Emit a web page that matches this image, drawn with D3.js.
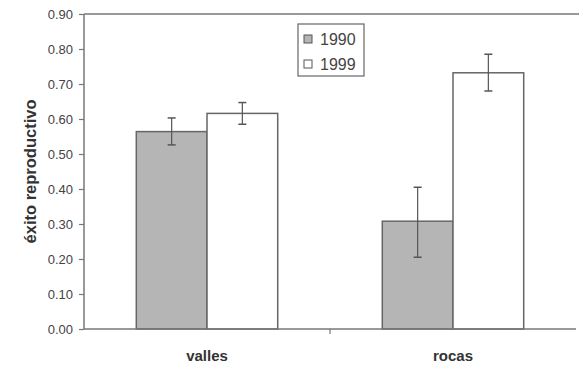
<!DOCTYPE html>
<html>
<head>
<meta charset="utf-8">
<script src="https://d3js.org/d3.v7.min.js"></script>
<style>
    body { margin: 0; background: white; }
    text { font-family: 'Liberation Sans', Arial, sans-serif; fill: #333; }
</style>
</head>
<body>
<div id="chart"></div>
<script>

var categories = ["valles", "rocas"];
var years = ["1990", "1999"];
var means = {
    "1990": [0.564, 0.308],
    "1999": [0.616, 0.732]
};
var errLow = {
    "1990": [0.526, 0.205],
    "1999": [0.585, 0.680]
};
var errHigh = {
    "1990": [0.603, 0.405],
    "1999": [0.647, 0.785]
};
var yTicks = [0, 0.1, 0.2, 0.3, 0.4, 0.5, 0.6, 0.7, 0.8, 0.9];
var fills = { "1990": "#b5b5b5", "1999": "#ffffff" };

var W = 579, H = 367;
var mLeft = 84, mRight = 576, mTop = 14, mBottom = 329;
var groupW = 141.4;

var svg = d3.select("#chart").append("svg")
    .attr("width", W)
    .attr("height", H);

var x = d3.scaleBand()
    .domain(categories)
    .range([mLeft, mRight]);

var xIn = d3.scaleBand()
    .domain(years)
    .range([0, groupW]);

var y = d3.scaleLinear()
    .domain([0, 0.9])
    .range([mBottom, mTop]);

// top border of plot area
svg.append("line")
    .attr("x1", mLeft).attr("x2", W)
    .attr("y1", mTop).attr("y2", mTop)
    .style("stroke", "#777")
    .style("stroke-width", 1.5);

// bars
var groups = svg.selectAll(".grp")
    .data(categories)
    .enter().append("g")
    .attr("transform", function(d) { return "translate(" + (x(d) + (x.bandwidth() - groupW) / 2) + ",0)"; });

years.forEach(function(yr) {
    groups.append("rect")
        .attr("x", function(d) { return xIn(yr); })
        .attr("y", function(d, i) { return y(means[yr][i]); })
        .attr("width", xIn.bandwidth())
        .attr("height", function(d, i) { return y(0) - y(means[yr][i]); })
        .style("fill", fills[yr])
        .style("stroke", "#666")
        .style("stroke-width", 1.5);
});

// error bars
years.forEach(function(yr) {
    var cx = function(d) { return xIn(yr) + xIn.bandwidth() / 2; };
    groups.append("line")
        .attr("x1", cx).attr("x2", cx)
        .attr("y1", function(d, i) { return y(errLow[yr][i]); })
        .attr("y2", function(d, i) { return y(errHigh[yr][i]); })
        .style("stroke", "#555").style("stroke-width", 1.2);
    [errLow, errHigh].forEach(function(e) {
        groups.append("line")
            .attr("x1", function(d) { return cx(d) - 4; })
            .attr("x2", function(d) { return cx(d) + 4; })
            .attr("y1", function(d, i) { return y(e[yr][i]); })
            .attr("y2", function(d, i) { return y(e[yr][i]); })
            .style("stroke", "#555").style("stroke-width", 1.5);
    });
});

// y axis
var yAxis = d3.axisLeft(y)
    .tickValues(yTicks)
    .tickFormat(d3.format(".2f"))
    .tickSize(5)
    .tickPadding(6);

var gy = svg.append("g")
    .attr("transform", "translate(" + mLeft + ",0)")
    .call(yAxis);
gy.select(".domain").style("stroke", "#777").style("stroke-width", 1.5)
    .attr("d", "M0," + mTop + "V" + mBottom);
gy.selectAll(".tick line").style("stroke", "#777").style("stroke-width", 1.2);
gy.selectAll(".tick text").style("font-size", "13px").style("fill", "#444")
    .style("font-family", "'Liberation Sans', Arial, sans-serif");

// x axis
var xAxis = d3.axisBottom(x).tickSize(0).tickPadding(21);
var gx = svg.append("g")
    .attr("transform", "translate(0," + mBottom + ")")
    .call(xAxis);
gx.select(".domain").style("stroke", "#777").style("stroke-width", 1.5)
    .attr("d", "M" + mLeft + ",0H" + mRight);
gx.selectAll(".tick text")
    .style("font-size", "15px")
    .style("font-weight", "bold")
    .style("fill", "#333")
    .style("font-family", "'Liberation Sans', Arial, sans-serif");
// separator tick between categories
svg.append("line")
    .attr("x1", x("rocas")).attr("x2", x("rocas"))
    .attr("y1", mBottom).attr("y2", mBottom + 5)
    .style("stroke", "#777").style("stroke-width", 1.2);

// y title
svg.append("text")
    .attr("transform", "translate(36," + ((mTop + mBottom) / 2) + ") rotate(-90)")
    .attr("text-anchor", "middle")
    .style("font-size", "16.5px")
    .style("font-weight", "bold")
    .text("éxito reproductivo");

// legend
var lg = svg.append("g").attr("transform", "translate(298,24)");
lg.append("rect")
    .attr("width", 66).attr("height", 52)
    .style("fill", "white").style("stroke", "#666").style("stroke-width", 1.2);
years.forEach(function(yr, i) {
    lg.append("rect")
        .attr("x", 6).attr("y", 11 + i * 25)
        .attr("width", 8).attr("height", 8)
        .style("fill", fills[yr]).style("stroke", "#555");
    lg.append("text")
        .attr("x", 22).attr("y", 21 + i * 25)
        .style("font-size", "16px")
        .style("fill", "#444")
        .text(yr);
});

</script>
</body>
</html>
